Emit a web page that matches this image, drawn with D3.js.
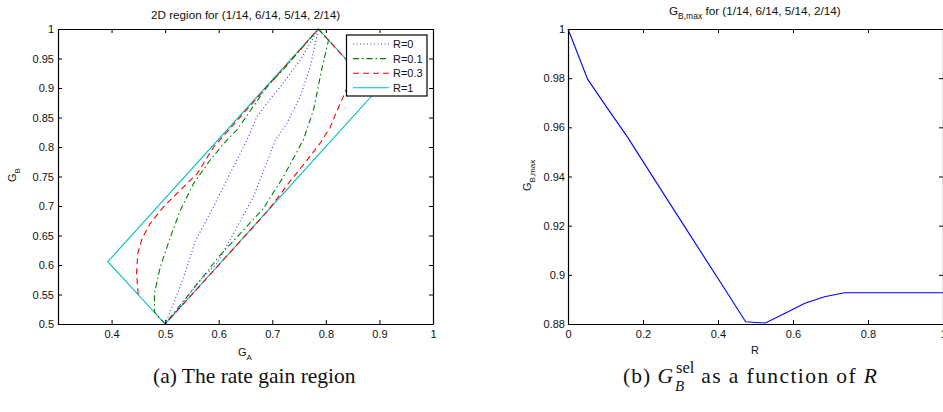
<!DOCTYPE html>
<html>
<head>
<meta charset="utf-8">
<script src="https://cdn.jsdelivr.net/npm/d3@7"></script>
<style>
	body { margin: 0; background: #fff; }
	svg { display: block; }
	text { font-family: "Liberation Sans", Arial, sans-serif; fill: #111; }
	.caption, .caption tspan { font-family: "Liberation Serif", "Times New Roman", serif; }
</style>
</head>
<body>
<div class="figure"></div>
<script>
// R = 1 region boundary (G_A, G_B)
var regionR1 = [[0.5, 0.5], [0.393, 0.6056], [0.786, 1], [0.893, 0.894], [0.5, 0.5]];
// R = 0.3 : left branch up, right branch down
var regionR03 = [[0.4497, 0.5505], [0.4466, 0.586], [0.449, 0.62], [0.457, 0.645], [0.4726, 0.671],
	[0.4974, 0.699], [0.5285, 0.727], [0.56, 0.755], [0.5905, 0.8], [0.786, 1],
	[0.843, 0.943], [0.842, 0.92], [0.839, 0.9], [0.834, 0.888], [0.82, 0.86], [0.808, 0.833],
	[0.789, 0.806], [0.76, 0.772], [0.735, 0.744], [0.71, 0.714], [0.69, 0.69], [0.5, 0.5]];
// R = 0.1
var regionR01 = [[0.5, 0.5], [0.48, 0.52], [0.48, 0.552], [0.491, 0.597], [0.51, 0.648],
	[0.5285, 0.693], [0.553, 0.738], [0.584, 0.778], [0.6155, 0.812], [0.634, 0.829],
	[0.69, 0.902], [0.727, 0.938], [0.786, 1], [0.805, 0.981], [0.792, 0.9305], [0.777, 0.863],
	[0.758, 0.812], [0.721, 0.75], [0.6836, 0.696], [0.646, 0.659], [0.603, 0.617],
	[0.5657, 0.5746], [0.5, 0.5]];
// R = 0
var regionR0 = [[0.5, 0.5], [0.513, 0.529], [0.528, 0.563], [0.541, 0.597], [0.556, 0.64],
	[0.5905, 0.699], [0.621, 0.755], [0.653, 0.812], [0.671, 0.851], [0.695, 0.88],
	[0.715, 0.902], [0.752, 0.947], [0.786, 1], [0.771, 0.936], [0.752, 0.885], [0.727, 0.84],
	[0.706, 0.812], [0.665, 0.716], [0.628, 0.654], [0.597, 0.603], [0.56, 0.569],
	[0.5285, 0.529], [0.5, 0.5]];

var legendLabels = ['R=0', 'R=0.1', 'R=0.3', 'R=1'];
var gaTicks = [0.4, 0.5, 0.6, 0.7, 0.8, 0.9, 1];
var gbTicks = [0.5, 0.55, 0.6, 0.65, 0.7, 0.75, 0.8, 0.85, 0.9, 0.95, 1];

// G_B,max against R
var rValues = [0, 0.0526, 0.1053, 0.1579, 0.2105, 0.2632, 0.3158, 0.3684, 0.4211, 0.4737,
	0.5263, 0.5789, 0.6316, 0.6842, 0.7368, 0.7895, 0.8421, 0.8947, 0.9474, 1];
var gbMax = [1, 0.9795, 0.9677, 0.9562, 0.9436, 0.931, 0.9185, 0.906, 0.8935, 0.8809,
	0.8804, 0.8844, 0.8884, 0.8911, 0.8927, 0.8927, 0.8927, 0.8927, 0.8927, 0.8927];
var rTicks = [0, 0.2, 0.4, 0.6, 0.8, 1];
var gmaxTicks = [0.88, 0.9, 0.92, 0.94, 0.96, 0.98, 1];

var svg = d3.select('.figure').append('svg')
	.attr('width', 943)
	.attr('height', 412);

function fmt(d) { return String(+d.toFixed(3)); }

// draws a boxed matlab-style axes with ticks pointing inwards
function drawBox(x, y, xTicks, yTicks, yPad) {
	var g = svg.append('g').attr('class', 'axes');
	var x0 = x.range()[0], x1 = x.range()[1];
	var y0 = y.range()[0], y1 = y.range()[1];
	var parts = [
		[d3.axisBottom(x).tickValues(xTicks).tickFormat(fmt).tickPadding(6), 'translate(0,' + y0 + ')'],
		[d3.axisTop(x).tickValues(xTicks).tickFormat(''), 'translate(0,' + y1 + ')'],
		[d3.axisLeft(y).tickValues(yTicks).tickFormat(fmt).tickPadding(yPad), 'translate(' + x0 + ',0)'],
		[d3.axisRight(y).tickValues(yTicks).tickFormat(''), 'translate(' + x1 + ',0)']
	];
	parts.forEach(function(p) {
		var a = g.append('g')
			.attr('transform', p[1])
			.call(p[0].tickSize(-4).tickSizeOuter(0));
		a.attr('font-family', null).attr('font-size', null);
		a.select('.domain').attr('stroke', '#000').attr('stroke-width', 1.2);
		a.selectAll('.tick line').attr('stroke', '#000');
		a.selectAll('.tick text').attr('fill', '#111').style('font-size', '11px');
	});
	return g;
}

// ---- (a) rate gain region ----
var ax = d3.scaleLinear().domain([0.3, 1]).range([58, 433]);
var ay = d3.scaleLinear().domain([0.5, 1]).range([324, 29]);
var regionLine = d3.line()
	.x(function(d) { return ax(d[0]); })
	.y(function(d) { return ay(d[1]); });

var curves = [
	{ data: regionR1, color: '#00bfbf', dash: null, width: 1.1 },
	{ data: regionR03, color: '#ff0000', dash: '6,4', width: 1.1 },
	{ data: regionR01, color: '#008000', dash: '6,3,1.5,3', width: 1.1 },
	{ data: regionR0, color: '#3333ff', dash: '1,2.5', width: 1.1 }
];
var plotA = svg.append('g').attr('class', 'plot-a');
curves.forEach(function(c) {
	plotA.append('path')
		.attr('d', regionLine(c.data))
		.attr('fill', 'none')
		.attr('stroke', c.color)
		.attr('stroke-width', c.width)
		.attr('stroke-dasharray', c.dash);
});

drawBox(ax, ay, gaTicks, gbTicks, 4);

// legend, drawn over the curves
var legend = svg.append('g').attr('class', 'legend');
legend.append('rect')
	.attr('x', 346.5).attr('y', 35)
	.attr('width', 80.5).attr('height', 61)
	.attr('fill', '#fff').attr('stroke', '#000').attr('stroke-width', 1.2);
var legendOrder = [curves[3], curves[2], curves[1], curves[0]];
legendLabels.forEach(function(lab, i) {
	var ly = 44 + i * 14.6;
	legend.append('line')
		.attr('x1', 353).attr('x2', 389)
		.attr('y1', ly).attr('y2', ly)
		.attr('stroke', legendOrder[i].color)
		.attr('stroke-width', legendOrder[i].width)
		.attr('stroke-dasharray', legendOrder[i].dash);
	legend.append('text')
		.attr('x', 393).attr('y', ly + 4)
		.style('font-size', '11px')
		.text(lab);
});

svg.append('text')
	.attr('x', 245.5).attr('y', 19)
	.attr('text-anchor', 'middle')
	.style('font-size', '11.7px')
	.text('2D region for (1/14, 6/14, 5/14, 2/14)');

var gaLabel = svg.append('text')
	.attr('x', 238).attr('y', 356)
	.style('font-size', '11px');
gaLabel.append('tspan').text('G');
gaLabel.append('tspan').attr('dy', 4).style('font-size', '8px').text('A');

var gbLabel = svg.append('text')
	.attr('transform', 'translate(16,182) rotate(-90)')
	.style('font-size', '11px');
gbLabel.append('tspan').text('G');
gbLabel.append('tspan').attr('dy', 4).style('font-size', '8px').text('B');

// ---- (b) G_B,max as function of R ----
var bx = d3.scaleLinear().domain([0, 1]).range([568, 943]);
var by = d3.scaleLinear().domain([0.88, 1]).range([324, 29]);
var maxLine = d3.line()
	.x(function(d, i) { return bx(rValues[i]); })
	.y(function(d) { return by(d); });

svg.append('path')
	.attr('d', maxLine(gbMax))
	.attr('fill', 'none')
	.attr('stroke', '#0000ff')
	.attr('stroke-width', 1.1);

drawBox(bx, by, rTicks, gmaxTicks, 3);

var titleB = svg.append('text')
	.attr('x', 669).attr('y', 15)
	.style('font-size', '11.7px');
titleB.append('tspan').text('G');
titleB.append('tspan').attr('dy', 4).style('font-size', '8.5px').text('B,max');
titleB.append('tspan').attr('dy', -4).text(' for (1/14, 6/14, 5/14, 2/14)');

svg.append('text')
	.attr('x', 755).attr('y', 354)
	.attr('text-anchor', 'middle')
	.style('font-size', '11px')
	.text('R');

var gmLabel = svg.append('text')
	.attr('transform', 'translate(531,191) rotate(-90)')
	.style('font-size', '11px');
gmLabel.append('tspan').text('G');
gmLabel.append('tspan').attr('dy', 4).style('font-size', '8px').text('B,max');

// ---- captions ----
svg.append('text')
	.attr('class', 'caption')
	.attr('x', 153).attr('y', 383)
	.style('font-size', '21.5px')
	.text('(a) The rate gain region');

var capB = svg.append('text')
	.attr('class', 'caption')
	.attr('x', 623).attr('y', 383)
	.attr('textLength', 50)
	.attr('lengthAdjust', 'spacing')
	.style('font-size', '21.5px');
capB.append('tspan').text('(b) ');
capB.append('tspan').style('font-style', 'italic').text('G');
var capEnd = 623 + 52;
var sel = svg.append('text')
	.attr('class', 'caption')
	.attr('x', capEnd + 1).attr('y', 373)
	.style('font-size', '16.5px')
	.text('sel');
svg.append('text')
	.attr('class', 'caption')
	.attr('x', capEnd).attr('y', 391)
	.style('font-size', '15px')
	.style('font-style', 'italic')
	.text('B');
var capStart = capEnd + 1 + sel.node().getComputedTextLength() + 7;
var capB2 = svg.append('text')
	.attr('class', 'caption')
	.attr('x', capStart).attr('y', 383)
	.attr('textLength', 877 - capStart)
	.attr('lengthAdjust', 'spacing')
	.style('font-size', '21.5px');
capB2.append('tspan').text('as a function of ');
capB2.append('tspan').style('font-style', 'italic').text('R');
</script>
</body>
</html>
